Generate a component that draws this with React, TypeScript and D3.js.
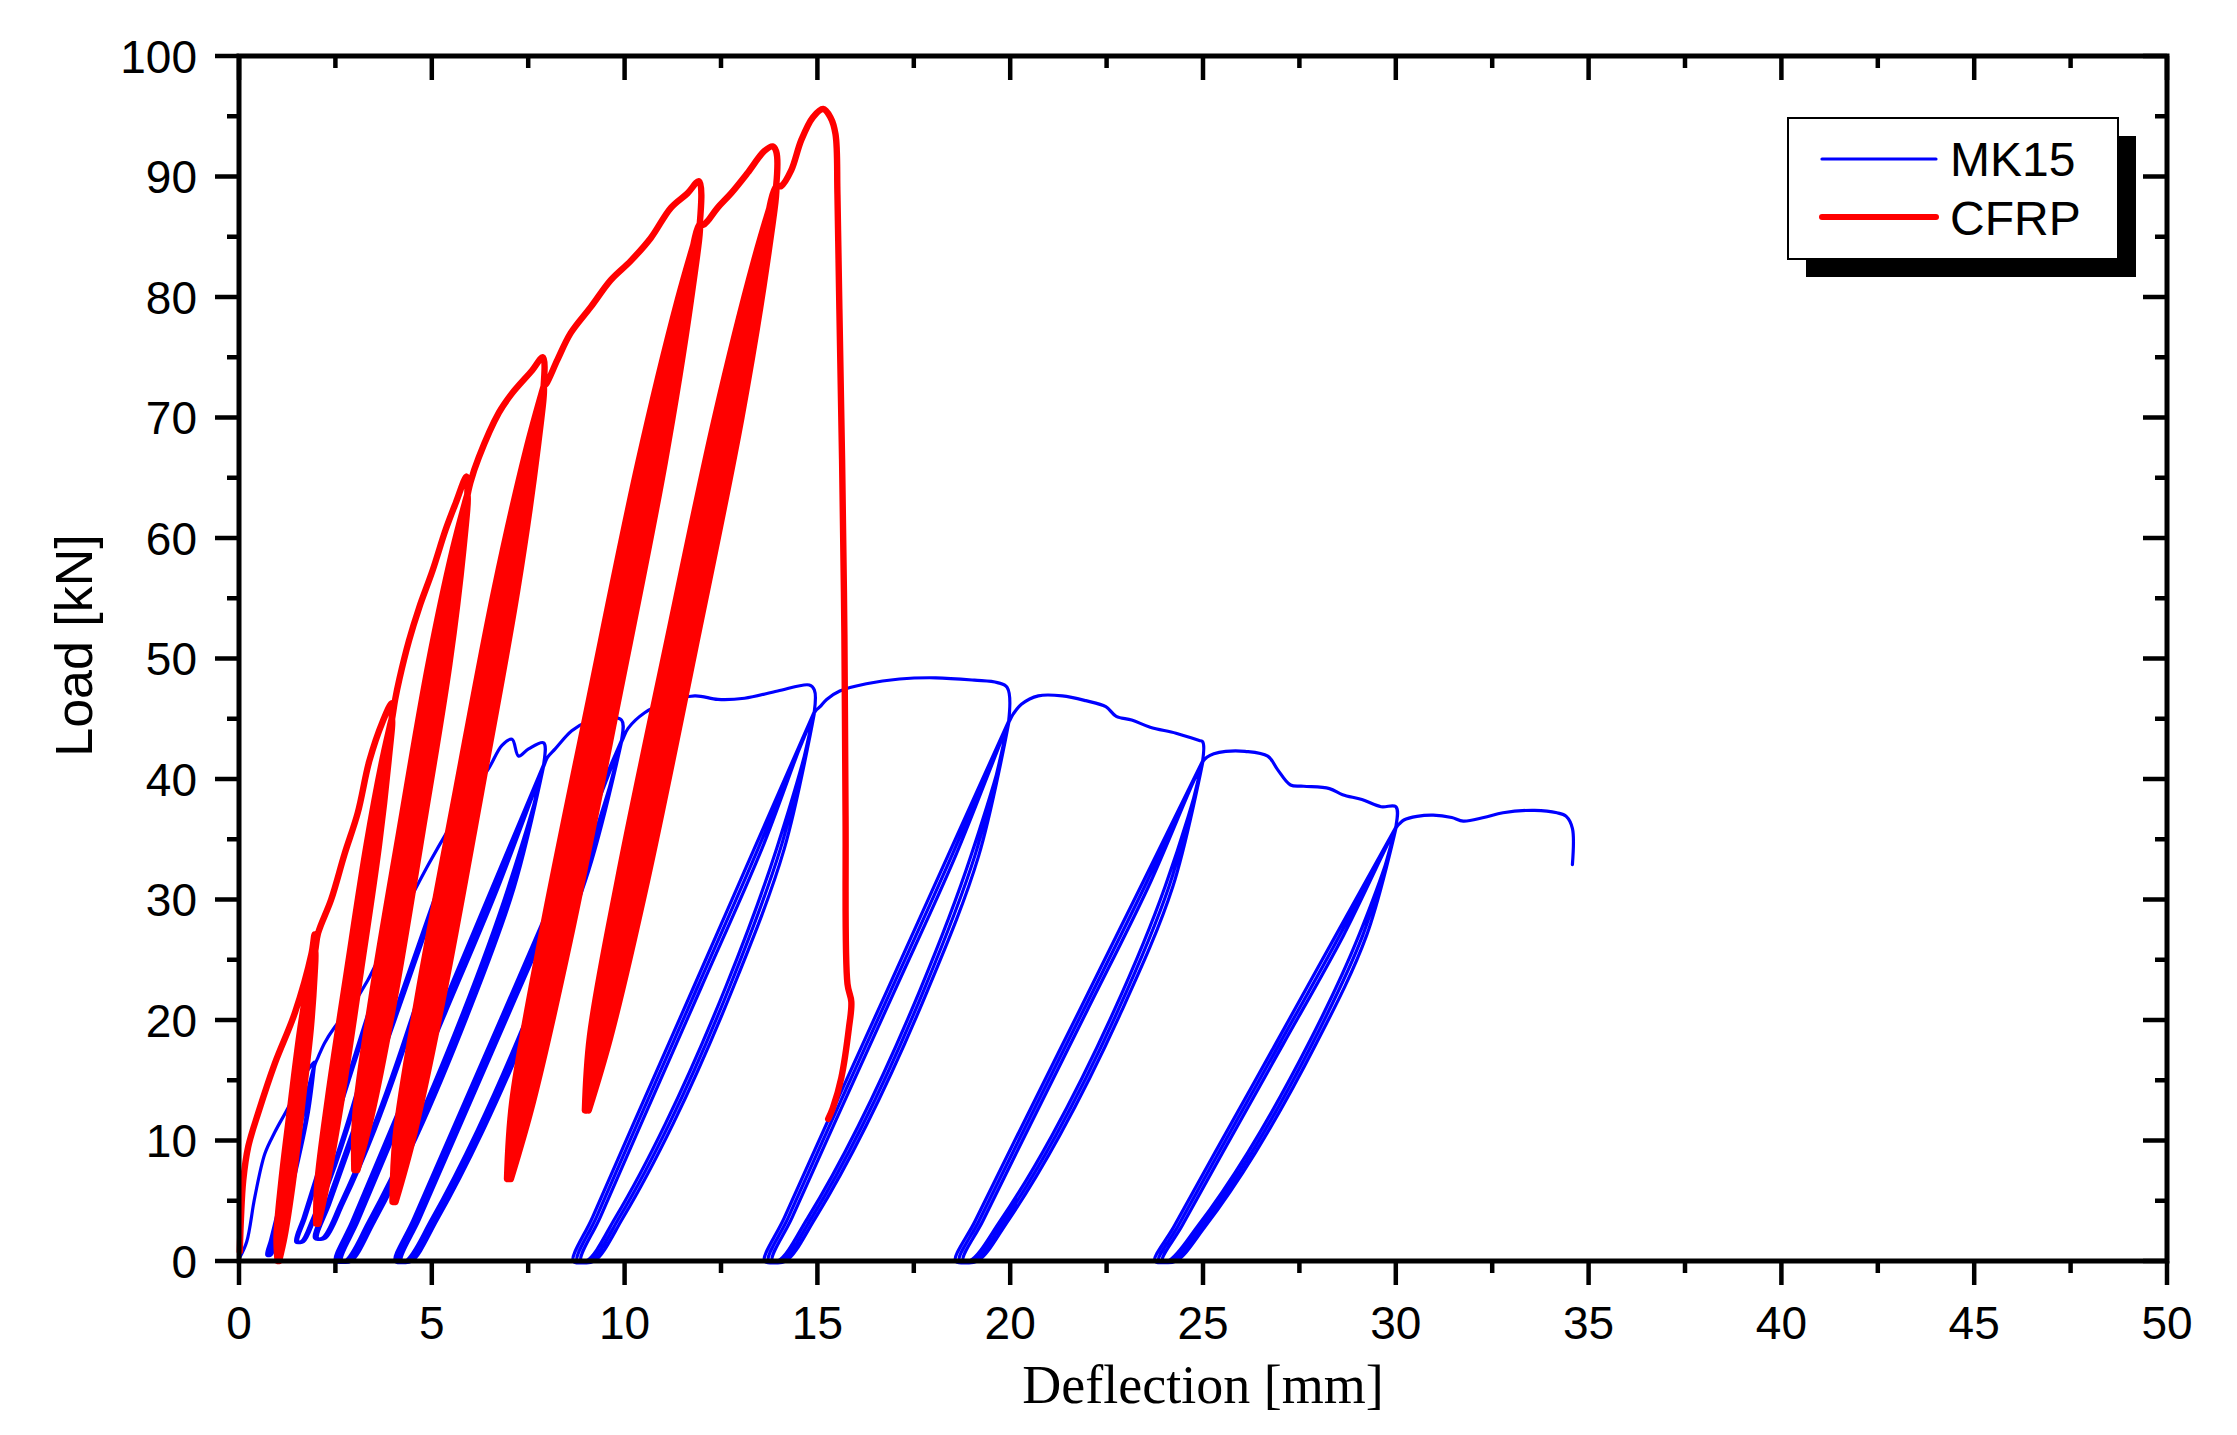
import React from 'react';
import * as d3 from 'd3';

type Pt = [number, number];
type Cycle = { ys: number[]; un: number[][]; re: number[][] };

// ---------- axes ----------
const deflectionTicks = [0, 5, 10, 15, 20, 25, 30, 35, 40, 45, 50];
const deflectionMinor = [2.5, 7.5, 12.5, 17.5, 22.5, 27.5, 32.5, 37.5, 42.5, 47.5];
const loadTicks = [0, 10, 20, 30, 40, 50, 60, 70, 80, 90, 100];
const loadMinor = [5, 15, 25, 35, 45, 55, 65, 75, 85, 95];
const seriesNames = ['MK15', 'CFRP'];
const seriesColors = ['#0000FF', '#FF0000'];

// ---------- MK15 (blue) : envelope pieces + unload/reload cycles ----------
const mk15Env0: Pt[] = [[0.02, 0.3], [0.2, 1.6], [0.41, 5.3], [0.67, 8.9], [0.93, 10.7], [1.27, 12.7], [1.62, 15.0], [1.95, 16.5]];
const mk15Cyc1: Cycle = {
  ys: [16.3, 12.35, 8.4, 4.45, 1.76, 0.5],
  un: [[1.95, 1.76, 1.505, 1.2, 0.942, 0.79], [1.95, 1.78, 1.525, 1.22, 0.962, 0.81], [1.96, 1.8, 1.545, 1.24, 0.982, 0.83]],
  re: [[1.95, 1.64, 1.335, 1.03, 0.82, 0.72], [1.96, 1.66, 1.355, 1.05, 0.84, 0.74], [1.97, 1.68, 1.375, 1.07, 0.86, 0.76]],
};
const mk15Env1: Pt[] = [[2.05, 16.9], [2.22, 18.1], [2.48, 19.4], [2.91, 21.1], [3.34, 23.3], [3.68, 25.5], [4.0, 27.6]];
const mk15Cyc2: Cycle = {
  ys: [27.2, 20.8, 14.4, 8.0, 3.65, 1.6],
  un: [[4.0, 3.615, 3.085, 2.45, 1.922, 1.614], [4.0, 3.645, 3.115, 2.48, 1.952, 1.644], [4.01, 3.675, 3.145, 2.51, 1.982, 1.674]],
  re: [[4.0, 3.37, 2.735, 2.1, 1.67, 1.47], [4.01, 3.4, 2.765, 2.13, 1.7, 1.5], [4.02, 3.43, 2.795, 2.16, 1.73, 1.53]],
};
const mk15Env2: Pt[] = [[4.1, 28.1], [4.33, 29.4], [4.93, 33.0], [5.45, 35.9], [5.95, 38.5]];
const mk15Cyc3: Cycle = {
  ys: [38.0, 29.0, 19.95, 10.9, 4.8, 1.9],
  un: [[5.95, 5.3, 4.45, 3.45, 2.63, 2.16], [5.95, 5.34, 4.49, 3.49, 2.67, 2.2], [5.96, 5.38, 4.53, 3.53, 2.71, 2.24]],
  re: [[5.95, 4.95, 3.96, 2.96, 2.28, 1.96], [5.96, 4.99, 4.0, 3.0, 2.32, 2.0], [5.97, 5.03, 4.04, 3.04, 2.36, 2.04]],
};
const mk15Env3: Pt[] = [[6.05, 38.9], [6.48, 40.9], [6.82, 42.8], [7.08, 43.3], [7.25, 41.9], [7.51, 42.5], [7.9, 43.0]];
const mk15Cyc4: Cycle = {
  ys: [41.2, 30.9, 20.6, 10.3, 3.3, 0],
  un: [[7.9, 6.97, 5.8, 4.45, 3.36, 2.75], [7.9, 7.05, 5.88, 4.53, 3.44, 2.83], [7.91, 7.13, 5.96, 4.61, 3.52, 2.91]],
  re: [[7.9, 6.55, 5.2, 3.85, 2.93, 2.5], [7.91, 6.63, 5.28, 3.93, 3.01, 2.58], [7.92, 6.71, 5.36, 4.01, 3.09, 2.66]],
};
const mk15Env4: Pt[] = [[8.0, 41.8], [8.2, 42.5], [8.63, 44.0], [9.06, 44.8], [9.49, 45.1], [9.92, 44.9]];
const mk15Cyc5: Cycle = {
  ys: [43.2, 32.4, 21.6, 10.8, 3.46, 0],
  un: [[9.92, 8.91, 7.64, 6.17, 4.99, 4.32], [9.92, 8.99, 7.72, 6.25, 5.07, 4.4], [9.93, 9.07, 7.8, 6.33, 5.15, 4.48]],
  re: [[9.92, 8.45, 6.99, 5.52, 4.52, 4.05], [9.93, 8.53, 7.07, 5.6, 4.6, 4.13], [9.94, 8.61, 7.15, 5.68, 4.68, 4.21]],
};
const mk15Env5: Pt[] = [[10.09, 44.2], [10.52, 45.5], [11.04, 46.3], [11.82, 46.9], [12.42, 46.6], [13.11, 46.7], [13.97, 47.3], [14.79, 47.8], [14.92, 47.4]];
const mk15Cyc6: Cycle = {
  ys: [45.6, 34.2, 22.8, 11.4, 3.65, 0],
  un: [[14.92, 13.94, 12.63, 11.06, 9.77, 9.01], [14.92, 14.04, 12.73, 11.16, 9.87, 9.11], [14.93, 14.14, 12.83, 11.26, 9.97, 9.21]],
  re: [[14.92, 13.36, 11.8, 10.23, 9.17, 8.67], [14.93, 13.46, 11.9, 10.33, 9.27, 8.77], [14.94, 13.56, 12.0, 10.43, 9.37, 8.87]],
};
const mk15Env6: Pt[] = [[15.07, 46.0], [15.24, 46.6], [15.58, 47.3], [16.27, 47.9], [17.13, 48.3], [18.07, 48.4], [19.07, 48.2], [19.67, 48.0], [19.92, 47.6]];
const mk15Cyc7: Cycle = {
  ys: [44.8, 33.6, 22.4, 11.2, 3.58, 0],
  un: [[19.96, 18.98, 17.65, 16.06, 14.75, 13.98], [19.96, 19.08, 17.75, 16.16, 14.85, 14.08], [19.97, 19.18, 17.85, 16.26, 14.95, 14.18]],
  re: [[19.96, 18.38, 16.8, 15.21, 14.14, 13.63], [19.97, 18.48, 16.9, 15.31, 14.24, 13.73], [19.98, 18.58, 17.0, 15.41, 14.34, 13.83]],
};
const mk15Env7: Pt[] = [[20.08, 45.4], [20.29, 46.2], [20.73, 46.9], [21.35, 46.9], [21.96, 46.5], [22.48, 46.0], [22.75, 45.2], [23.15, 44.9], [23.63, 44.3], [24.3, 43.8], [24.9, 43.2], [24.99, 43.1]];
const mk15Cyc8: Cycle = {
  ys: [41.5, 31.1, 20.75, 10.4, 3.32, 0],
  un: [[24.99, 24.02, 22.69, 21.08, 19.74, 18.95], [24.99, 24.12, 22.79, 21.18, 19.84, 19.05], [25.0, 24.22, 22.89, 21.28, 19.94, 19.15]],
  re: [[24.99, 23.39, 21.79, 20.18, 19.09, 18.58], [25.0, 23.49, 21.89, 20.28, 19.19, 18.68], [25.01, 23.59, 21.99, 20.38, 19.29, 18.78]],
};
const mk15Env8: Pt[] = [[25.1, 41.8], [25.28, 42.1], [25.59, 42.3], [26.09, 42.3], [26.68, 41.9], [26.93, 40.8], [27.27, 39.5], [27.61, 39.4], [28.28, 39.2], [28.62, 38.7], [29.12, 38.3], [29.62, 37.7], [30.0, 37.7]];
const mk15Cyc9: Cycle = {
  ys: [36.0, 27.0, 18.0, 9.0, 2.88, 0],
  un: [[30.0, 29.04, 27.73, 26.16, 24.86, 24.1], [30.0, 29.14, 27.83, 26.26, 24.96, 24.2], [30.01, 29.24, 27.93, 26.36, 25.06, 24.3]],
  re: [[30.0, 28.44, 26.88, 25.31, 24.25, 23.75], [30.01, 28.54, 26.98, 25.41, 24.35, 23.85], [30.02, 28.64, 27.08, 25.51, 24.45, 23.95]],
};
const mk15Env9: Pt[] = [[30.1, 36.3], [30.21, 36.6], [30.55, 36.9], [30.97, 37.0], [31.45, 36.8], [31.75, 36.5], [32.28, 36.8], [32.78, 37.2], [33.6, 37.4], [34.18, 37.2], [34.42, 36.9], [34.58, 35.9], [34.58, 32.9]];

// ---------- CFRP (red) ----------
const cfrpEnv0: Pt[] = [[0.02, 0.8], [0.05, 3.5], [0.11, 6.7], [0.24, 9.5], [0.5, 12.3], [0.93, 16.4], [1.45, 20.6], [1.88, 25.5], [1.96, 27.1]];
const cfrpCyc1: Cycle = {
  ys: [25.8, 23.74, 19.35, 12.9, 6.45, 2.06, 0],
  un: [[1.97, 1.906, 1.755, 1.515, 1.273, 1.099, 1.0], [1.97, 1.933, 1.809, 1.575, 1.333, 1.141, 1.02], [1.98, 1.96, 1.863, 1.635, 1.393, 1.183, 1.04]],
  re: [[1.97, 1.825, 1.593, 1.335, 1.093, 0.973, 1.0], [1.97, 1.851, 1.647, 1.395, 1.153, 1.015, 1.02], [1.98, 1.879, 1.701, 1.455, 1.213, 1.057, 1.04]],
};
const cfrpEnv1: Pt[] = [[2.05, 27.2], [2.39, 30.0], [2.74, 33.8], [3.08, 37.2], [3.38, 41.5], [3.73, 44.8], [3.96, 46.3]];
const cfrpCyc2: Cycle = {
  ys: [45.0, 41.65, 34.53, 24.05, 13.58, 6.45, 3.1],
  un: [[3.96, 3.819, 3.502, 3.016, 2.526, 2.182, 2.0], [3.96, 3.852, 3.567, 3.088, 2.598, 2.233, 2.03], [3.97, 3.884, 3.632, 3.16, 2.67, 2.283, 2.06]],
  re: [[3.96, 3.722, 3.308, 2.8, 2.31, 2.031, 2.0], [3.96, 3.754, 3.373, 2.872, 2.382, 2.081, 2.03], [3.97, 3.787, 3.438, 2.944, 2.454, 2.132, 2.06]],
};
const cfrpEnv2: Pt[] = [[4.05, 46.6], [4.16, 48.3], [4.41, 51.5], [4.67, 54.2], [5.02, 57.3], [5.36, 60.7], [5.62, 62.9], [5.9, 65.1]];
const cfrpCyc3: Cycle = {
  ys: [63.6, 59.12, 49.59, 35.58, 21.56, 12.03, 7.55],
  un: [[5.92, 5.713, 5.242, 4.515, 3.783, 3.266, 2.99], [5.92, 5.767, 5.35, 4.635, 3.903, 3.35, 3.03], [5.93, 5.821, 5.458, 4.755, 4.023, 3.434, 3.07]],
  re: [[5.92, 5.551, 4.918, 4.155, 3.423, 3.014, 2.99], [5.92, 5.605, 5.026, 4.275, 3.543, 3.098, 3.03], [5.93, 5.659, 5.134, 4.395, 3.663, 3.182, 3.07]],
};
const cfrpEnv3: Pt[] = [[6.0, 64.6], [6.22, 66.7], [6.74, 70.4], [7.08, 72.0], [7.6, 73.9], [7.88, 75.0]];
const cfrpCyc4: Cycle = {
  ys: [72.6, 67.18, 55.68, 38.75, 21.83, 10.32, 4.9],
  un: [[7.9, 7.616, 6.979, 6.006, 5.026, 4.34, 3.98], [7.9, 7.675, 7.098, 6.138, 5.158, 4.433, 4.02], [7.91, 7.735, 7.217, 6.27, 5.29, 4.525, 4.06]],
  re: [[7.9, 7.438, 6.623, 5.61, 4.63, 4.063, 3.98], [7.9, 7.497, 6.742, 5.742, 4.762, 4.155, 4.02], [7.91, 7.556, 6.861, 5.874, 4.894, 4.248, 4.06]],
};
const cfrpEnv4: Pt[] = [[7.97, 72.8], [8.26, 74.8], [8.6, 77.0], [9.13, 79.2], [9.64, 81.4], [10.16, 83.0], [10.68, 84.9], [11.2, 87.4], [11.63, 88.6], [11.93, 89.6]];
const cfrpCyc5: Cycle = {
  ys: [86.1, 79.76, 66.28, 46.45, 26.63, 13.14, 6.8],
  un: [[11.95, 11.584, 10.768, 9.526, 8.276, 7.403, 6.95], [11.95, 11.653, 10.905, 9.678, 8.428, 7.51, 7.0], [11.96, 11.721, 11.042, 9.83, 8.58, 7.616, 7.05]],
  re: [[11.95, 11.379, 10.358, 9.07, 7.82, 7.084, 6.95], [11.95, 11.447, 10.495, 9.222, 7.972, 7.19, 7.0], [11.96, 11.516, 10.632, 9.374, 8.124, 7.297, 7.05]],
};
const cfrpEnv5: Pt[] = [[12.05, 86.0], [12.15, 86.3], [12.41, 87.4], [12.76, 88.6], [13.19, 90.3], [13.62, 92.1], [13.84, 92.5], [13.93, 92.1]];
const cfrpCyc6: Cycle = {
  ys: [89.2, 83.06, 70.03, 50.85, 31.68, 18.64, 12.5],
  un: [[13.93, 13.567, 12.758, 11.526, 10.286, 9.42, 8.97], [13.93, 13.636, 12.895, 11.678, 10.438, 9.527, 9.02], [13.94, 13.704, 13.032, 11.83, 10.59, 9.633, 9.07]],
  re: [[13.93, 13.362, 12.348, 11.07, 9.83, 9.101, 8.97], [13.93, 13.43, 12.485, 11.222, 9.982, 9.207, 9.02], [13.94, 13.499, 12.622, 11.374, 10.134, 9.314, 9.07]],
};
const cfrpEnv6: Pt[] = [[14.06, 89.2], [14.32, 90.5], [14.58, 93.0], [14.88, 94.9], [15.15, 95.6], [15.34, 94.9], [15.47, 93.5], [15.52, 88.5], [15.57, 79.0], [15.64, 66.5], [15.7, 52.0], [15.73, 37.0], [15.78, 23.0], [15.88, 21.5], [15.82, 19.4], [15.62, 15.2], [15.4, 12.7], [15.28, 11.8]];

const mk15Parts: (Pt[] | Cycle)[] = [mk15Env0, mk15Cyc1, mk15Env1, mk15Cyc2, mk15Env2, mk15Cyc3, mk15Env3, mk15Cyc4, mk15Env4, mk15Cyc5, mk15Env5, mk15Cyc6, mk15Env6, mk15Cyc7, mk15Env7, mk15Cyc8, mk15Env8, mk15Cyc9, mk15Env9];
const cfrpParts: (Pt[] | Cycle)[] = [cfrpEnv0, cfrpCyc1, cfrpEnv1, cfrpCyc2, cfrpEnv2, cfrpCyc3, cfrpEnv3, cfrpCyc4, cfrpEnv4, cfrpCyc5, cfrpEnv5, cfrpCyc6, cfrpEnv6];

// join the measured pieces in recording order (envelope -> unload -> reload ...)
function trace(parts: (Pt[] | Cycle)[]): Pt[] {
  const out: Pt[] = [];
  parts.forEach((p) => {
    if (Array.isArray(p)) {
      p.forEach((q) => out.push(q));
    } else {
      for (let k = 0; k < p.un.length; k++) {
        for (let i = 0; i < p.ys.length; i++) out.push([p.un[k][i], p.ys[i]]);
        for (let i = p.ys.length - 1; i >= 0; i--) out.push([p.re[k][i], p.ys[i]]);
      }
    }
  });
  return out;
}

const W = 2237;
const H = 1435;
const M = { left: 239, right: 2167, top: 56, bottom: 1261 };
const SANS = '"Liberation Sans", Arial, Helvetica, sans-serif';
const SERIF = '"Liberation Serif", "Times New Roman", Times, serif';

export default function App() {
  const x = d3.scaleLinear().domain([0, 50]).range([M.left, M.right]);
  const y = d3.scaleLinear().domain([0, 100]).range([M.bottom, M.top]);
  const line = d3
    .line<Pt>()
    .x((d) => x(d[0]))
    .y((d) => y(d[1]))
    .curve(d3.curveCatmullRom.alpha(0.5));

  const mk15Path = line(trace(mk15Parts)) || '';
  const cfrpPath = line(trace(cfrpParts)) || '';

  const axisW = 5;
  const tickW = 4.5;
  const major = 24;
  const minor = 12;

  return (
    <svg
      width={W}
      height={H}
      viewBox={`0 0 ${W} ${H}`}
      style={{ position: 'absolute', left: 0, top: 0, background: '#ffffff' }}
    >
      <rect x={0} y={0} width={W} height={H} fill="#ffffff" />

      {/* data */}
      <path d={mk15Path} fill="none" stroke={seriesColors[0]} strokeWidth={3.2} strokeLinejoin="round" strokeLinecap="round" />
      <path d={cfrpPath} fill="none" stroke={seriesColors[1]} strokeWidth={6.4} strokeLinejoin="round" strokeLinecap="round" />

      {/* frame */}
      <rect
        x={M.left}
        y={M.top}
        width={M.right - M.left}
        height={M.bottom - M.top}
        fill="none"
        stroke="#000"
        strokeWidth={axisW}
      />

      {/* bottom & top ticks */}
      {deflectionTicks.map((t) => (
        <g key={'xt' + t}>
          <line x1={x(t)} x2={x(t)} y1={M.bottom} y2={M.bottom + major} stroke="#000" strokeWidth={tickW} />
          <line x1={x(t)} x2={x(t)} y1={M.top} y2={M.top + major} stroke="#000" strokeWidth={tickW} />
          <text x={x(t)} y={1339} textAnchor="middle" fontFamily={SANS} fontSize={46} fill="#000">
            {t}
          </text>
        </g>
      ))}
      {deflectionMinor.map((t) => (
        <g key={'xm' + t}>
          <line x1={x(t)} x2={x(t)} y1={M.bottom} y2={M.bottom + minor} stroke="#000" strokeWidth={tickW} />
          <line x1={x(t)} x2={x(t)} y1={M.top} y2={M.top + minor} stroke="#000" strokeWidth={tickW} />
        </g>
      ))}

      {/* left & right ticks */}
      {loadTicks.map((t) => (
        <g key={'yt' + t}>
          <line x1={M.left} x2={M.left - major} y1={y(t)} y2={y(t)} stroke="#000" strokeWidth={tickW} />
          <line x1={M.right} x2={M.right - major} y1={y(t)} y2={y(t)} stroke="#000" strokeWidth={tickW} />
          <text x={197} y={y(t) + 16.5} textAnchor="end" fontFamily={SANS} fontSize={46} fill="#000">
            {t}
          </text>
        </g>
      ))}
      {loadMinor.map((t) => (
        <g key={'ym' + t}>
          <line x1={M.left} x2={M.left - minor} y1={y(t)} y2={y(t)} stroke="#000" strokeWidth={tickW} />
          <line x1={M.right} x2={M.right - minor} y1={y(t)} y2={y(t)} stroke="#000" strokeWidth={tickW} />
        </g>
      ))}

      {/* axis titles */}
      <text x={(M.left + M.right) / 2} y={1403} textAnchor="middle" fontFamily={SERIF} fontSize={54} fill="#000">
        Deflection [mm]
      </text>
      <text
        transform={`translate(92, ${(M.top + M.bottom) / 2 - 13}) rotate(-90)`}
        textAnchor="middle"
        fontFamily={SANS}
        fontSize={52}
        fill="#000"
      >
        Load [kN]
      </text>

      {/* legend */}
      <rect x={1806} y={136} width={330} height={141} fill="#000" />
      <rect x={1788} y={118} width={330} height={141} fill="#fff" stroke="#000" strokeWidth={2} />
      <line x1={1822} x2={1936} y1={159} y2={159} stroke={seriesColors[0]} strokeWidth={3.2} strokeLinecap="round" />
      <line x1={1822} x2={1936} y1={217} y2={217} stroke={seriesColors[1]} strokeWidth={6} strokeLinecap="round" />
      <text x={1950} y={176} fontFamily={SANS} fontSize={48} fill="#000">
        {seriesNames[0]}
      </text>
      <text x={1950} y={235} fontFamily={SANS} fontSize={48} fill="#000">
        {seriesNames[1]}
      </text>
    </svg>
  );
}
